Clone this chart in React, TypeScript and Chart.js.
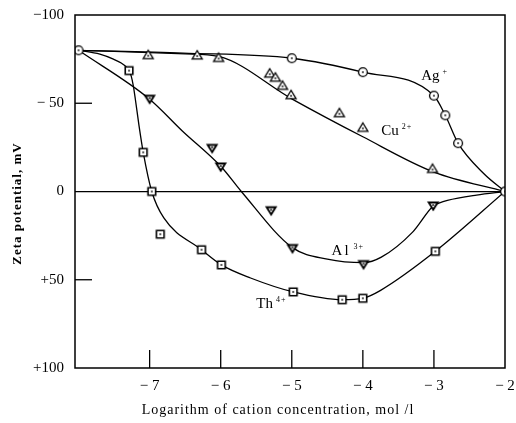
import React, { useEffect, useRef } from 'react';
import { Chart, registerables } from 'chart.js';

Chart.register(...registerables);

// ---- tick values ----
const xTicks = [-7, -6, -5, -4, -3, -2];
const yTicks = [-100, -50, 0, 50, 100];
const xInnerTicks = [-7, -6, -5, -4, -3];
const yInnerTicks = [-50, 50];

// ---- Ag+ (circles) ----
const agX = [-8, -5.0, -4.0, -3.0, -2.84, -2.66, -2];
const agY = [-80, -75.5, -67.6, -54.3, -43.2, -27.4, 0];
const agLineX = [-8, -6.53, -5.0, -4.0, -3.0, -2.84, -2.66, -2.3, -2];
const agLineY = [-80, -78.4, -75.5, -67.6, -54.3, -43.2, -27.4, -10.2, 0];

// ---- Cu2+ (triangles up) ----
const cuX = [-7.02, -6.33, -6.03, -5.31, -5.23, -5.13, -5.01, -4.33, -4.0, -3.02];
const cuY = [-77.5, -77.3, -75.9, -67.0, -64.7, -60.1, -54.8, -44.6, -36.3, -13.0];
const cuLineX = [-8, -6.5, -6.03, -5.0, -4.0, -3.0, -2];
const cuLineY = [-80, -78, -76.5, -52.5, -31, -11, 0];

// ---- Al3+ (triangles down) ----
const alX = [-7.0, -6.12, -6.0, -5.29, -4.99, -3.99, -3.01];
const alY = [-52.3, -24.4, -13.9, 10.9, 32.3, 41.4, 8.2];
const alLineX = [-8, -7.0, -6.54, -5.99, -5.71, -4.99, -4.5, -3.99, -3.74, -3.3, -3.01, -2.93, -2.81, -2.4, -2];
const alLineY = [-80, -52.3, -34.3, -13.9, 0, 31.8, 38.3, 40.3, 37.2, 23, 8.2, 6.6, 5.0, 2.0, 0];

// ---- Th4+ (squares) ----
const thX = [-7.29, -7.09, -6.97, -6.85, -6.27, -5.99, -4.98, -4.29, -4.0, -2.98];
const thY = [-68.5, -22.2, 0, 24.2, 33, 41.6, 56.9, 61.3, 60.5, 33.9];
const thLineX = [-8, -7.7, -7.51, -7.4, -7.33, -7.29, -7.26, -7.23, -7.2, -7.15, -7.09, -6.97, -6.8, -6.27, -5.99, -5.58, -4.98, -4.29, -4.0, -3.75, -2.98, -2];
const thLineY = [-80, -77.8, -75, -72.8, -70.6, -68.5, -65.5, -60, -52, -37.5, -22.2, 0, 15, 33, 41.6, 49, 56.9, 61.3, 60.5, 56, 33.9, 0];

// ---- series labels ----
const seriesNames = ['Ag', 'Cu', 'Al', 'Th'];
const seriesCharges = ['+', '2+', '3+', '4+'];
const labelX = [-3.18, -3.74, -4.44, -5.5];
const labelY = [-63, -32, 36, 66];

const xTitle = 'Logarithm of cation concentration, mol /l';
const yTitle = 'Zeta potential, mV';

const SERIF = "'Liberation Serif', 'DejaVu Serif', serif";

const pts = (xs: number[], ys: number[]) => xs.map((x, i) => ({ x, y: ys[i] }));

function makeMarker(kind: string): HTMLCanvasElement {
  const c = document.createElement('canvas');
  const s = 14;
  c.width = s;
  c.height = s;
  const g = c.getContext('2d')!;
  const m = s / 2;
  g.strokeStyle = '#000';
  g.fillStyle = '#fff';
  g.lineWidth = 1.3;
  g.beginPath();
  let dotY = m;
  if (kind === 'circle') {
    g.arc(m, m, 4.4, 0, Math.PI * 2);
  } else if (kind === 'square') {
    g.lineWidth = 1.6;
    g.rect(m - 3.8, m - 3.8, 7.6, 7.6);
  } else if (kind === 'tri') {
    g.moveTo(m, m - 4.5);
    g.lineTo(m + 5, m + 3.8);
    g.lineTo(m - 5, m + 3.8);
    g.closePath();
    dotY = m + 1;
  } else {
    g.lineWidth = 1.9;
    g.moveTo(m - 4.5, m - 3.5);
    g.lineTo(m + 4.5, m - 3.5);
    g.lineTo(m, m + 3.8);
    g.closePath();
    dotY = m - 1;
  }
  g.fill();
  g.stroke();
  g.fillStyle = '#000';
  g.fillRect(m - 0.8, dotY - 0.8, 1.6, 1.6);
  return c;
}

const decor = {
  id: 'decor',
  afterDraw(chart: any) {
    const { ctx, chartArea: a, scales } = chart;
    const x = scales.x;
    const y = scales.y;
    ctx.save();
    ctx.strokeStyle = '#000';
    ctx.lineWidth = 1.5;
    ctx.strokeRect(a.left, a.top, a.right - a.left, a.bottom - a.top);
    ctx.lineWidth = 1.3;
    yInnerTicks.forEach((v) => {
      const py = y.getPixelForValue(v);
      ctx.beginPath();
      ctx.moveTo(a.left, py);
      ctx.lineTo(a.left + 17, py);
      ctx.stroke();
    });
    xInnerTicks.forEach((v) => {
      const px = x.getPixelForValue(v);
      ctx.beginPath();
      ctx.moveTo(px, a.bottom);
      ctx.lineTo(px, a.bottom - 18);
      ctx.stroke();
    });

    ctx.fillStyle = '#000';
    // series labels
    seriesNames.forEach((name, i) => {
      const px = x.getPixelForValue(labelX[i]);
      const py = y.getPixelForValue(labelY[i]);
      ctx.font = `15px ${SERIF}`;
      ctx.textAlign = 'left';
      ctx.textBaseline = 'alphabetic';
      (ctx as any).letterSpacing = name === 'Al' ? '2px' : '0px';
      ctx.fillText(name, px, py);
      const w = ctx.measureText(name).width;
      (ctx as any).letterSpacing = '1px';
      ctx.font = `8px ${SERIF}`;
      ctx.fillText(seriesCharges[i], px + w + 3, py - 6);
    });

    // axis titles
    (ctx as any).letterSpacing = '1px';
    ctx.font = `14px ${SERIF}`;
    ctx.textAlign = 'center';
    ctx.textBaseline = 'middle';
    ctx.fillText(xTitle, (a.left + a.right) / 2 - 12, 410);

    ctx.translate(18, (a.top + a.bottom) / 2 + 12);
    ctx.rotate(-Math.PI / 2);
    ctx.font = `bold 13px ${SERIF}`;
    ctx.fillText(yTitle, 0, 0);
    ctx.restore();
  },
};

export default function App() {
  const ref = useRef<HTMLCanvasElement | null>(null);

  useEffect(() => {
    if (!ref.current) return;
    const circle = makeMarker('circle');
    const tri = makeMarker('tri');
    const triDown = makeMarker('triDown');
    const square = makeMarker('square');

    const lineDs = (data: any[]) => ({
      type: 'scatter',
      data,
      showLine: true,
      borderColor: '#000',
      borderWidth: 1.3,
      pointRadius: 0,
      cubicInterpolationMode: 'monotone',
      fill: false,
      order: 1,
    });
    const markDs = (data: any[], style: HTMLCanvasElement) => ({
      type: 'scatter',
      data,
      showLine: false,
      pointStyle: style,
      pointRadius: 5,
      order: 0,
    });

    const chart = new Chart(ref.current, {
      type: 'scatter',
      data: {
        datasets: [
          lineDs(pts(agLineX, agLineY)),
          lineDs(pts(cuLineX, cuLineY)),
          lineDs(pts(alLineX, alLineY)),
          lineDs(pts(thLineX, thLineY)),
          markDs(pts(cuX, cuY), tri),
          markDs(pts(alX, alY), triDown),
          markDs(pts(thX, thY), square),
          markDs(pts(agX, agY), circle),
        ] as any,
      },
      options: {
        animation: false,
        responsive: false,
        maintainAspectRatio: false,
        devicePixelRatio: 1,
        layout: { padding: { top: 15, right: 11, left: 0, bottom: 0 } },
        plugins: { legend: { display: false }, tooltip: { enabled: false } },
        scales: {
          x: {
            type: 'linear',
            min: -8.05,
            max: -2,
            afterBuildTicks: (s: any) => {
              s.ticks = xTicks.map((v) => ({ value: v }));
            },
            afterFit: (s: any) => {
              s.height = 55;
              s.paddingLeft = 0;
              s.paddingRight = 0;
            },
            grid: { display: false, drawTicks: false },
            border: { display: false },
            ticks: {
              padding: 9,
              color: '#000',
              font: { family: SERIF, size: 15 },
              callback: (v: any) => '− ' + Math.abs(Number(v)),
            },
          },
          y: {
            type: 'linear',
            min: -100,
            max: 100,
            reverse: true,
            afterBuildTicks: (s: any) => {
              s.ticks = yTicks.map((v) => ({ value: v }));
            },
            afterFit: (s: any) => {
              s.width = 75;
              s.paddingTop = 0;
              s.paddingBottom = 0;
            },
            grid: {
              drawTicks: false,
              lineWidth: 1.3,
              color: (c: any) => (c.tick && c.tick.value === 0 ? '#000' : 'rgba(0,0,0,0)'),
            },
            border: { display: false },
            ticks: {
              padding: 11,
              color: '#000',
              font: { family: SERIF, size: 15 },
              callback: (v: any) => {
                const n = Number(v);
                if (n === 0) return '0';
                if (n > 0) return '+' + n;
                return n === -100 ? '−100' : '− ' + Math.abs(n);
              },
            },
          },
        },
      } as any,
      plugins: [decor],
    });
    return () => chart.destroy();
  }, []);

  return (
    <div style={{ position: 'absolute', left: 0, top: 0, width: 516, height: 423, background: '#fff' }}>
      <canvas ref={ref} width={516} height={423} style={{ display: 'block' }} />
    </div>
  );
}
